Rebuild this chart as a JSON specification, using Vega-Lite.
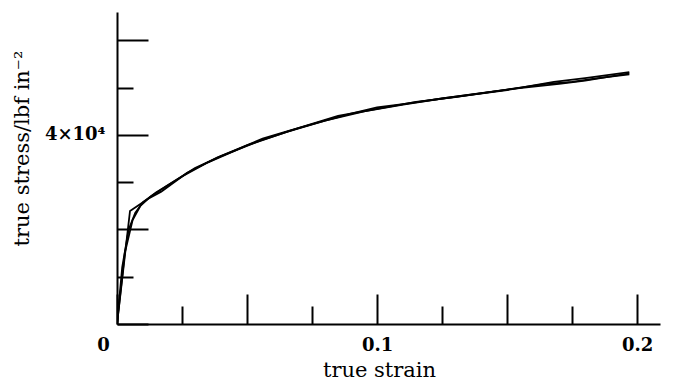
{
  "$schema": "https://vega.github.io/schema/vega-lite/v6.json",
  "width": 543,
  "height": 312,
  "autosize": "none",
  "padding": {"left": 117, "top": 12, "right": 13, "bottom": 59},
  "background": "white",
  "config": {"view": {"stroke": null}},
  "data": {"values": [
    {"run": "A", "strain": 0, "stress": 0},
    {"run": "A", "strain": 0.005, "stress": 23900},
    {"run": "A", "strain": 0.008, "stress": 25000},
    {"run": "A", "strain": 0.012, "stress": 26500},
    {"run": "A", "strain": 0.017, "stress": 28000},
    {"run": "A", "strain": 0.027, "stress": 32000},
    {"run": "A", "strain": 0.0385, "stress": 35200},
    {"run": "A", "strain": 0.056, "stress": 39200},
    {"run": "A", "strain": 0.067, "stress": 41000},
    {"run": "A", "strain": 0.08, "stress": 43000},
    {"run": "A", "strain": 0.09, "stress": 44500},
    {"run": "A", "strain": 0.1, "stress": 45800},
    {"run": "A", "strain": 0.11, "stress": 46500},
    {"run": "A", "strain": 0.125, "stress": 47700},
    {"run": "A", "strain": 0.15, "stress": 49500},
    {"run": "A", "strain": 0.168, "stress": 51200},
    {"run": "A", "strain": 0.18, "stress": 52000},
    {"run": "A", "strain": 0.197, "stress": 53300},
    {"run": "B", "strain": 0, "stress": 0},
    {"run": "B", "strain": 0.002, "stress": 12000},
    {"run": "B", "strain": 0.0045, "stress": 20000},
    {"run": "B", "strain": 0.007, "stress": 23500},
    {"run": "B", "strain": 0.01, "stress": 25800},
    {"run": "B", "strain": 0.015, "stress": 27800},
    {"run": "B", "strain": 0.025, "stress": 31200},
    {"run": "B", "strain": 0.035, "stress": 34200},
    {"run": "B", "strain": 0.05, "stress": 37800},
    {"run": "B", "strain": 0.065, "stress": 40600},
    {"run": "B", "strain": 0.08, "stress": 43000},
    {"run": "B", "strain": 0.095, "stress": 45000},
    {"run": "B", "strain": 0.11, "stress": 46400},
    {"run": "B", "strain": 0.125, "stress": 47700},
    {"run": "B", "strain": 0.15, "stress": 49600},
    {"run": "B", "strain": 0.165, "stress": 50800},
    {"run": "B", "strain": 0.175, "stress": 51200},
    {"run": "B", "strain": 0.185, "stress": 52000},
    {"run": "B", "strain": 0.197, "stress": 52800},
    {"run": "C", "strain": 0, "stress": 0},
    {"run": "C", "strain": 0.003, "stress": 15000},
    {"run": "C", "strain": 0.006, "stress": 22000},
    {"run": "C", "strain": 0.009, "stress": 25000},
    {"run": "C", "strain": 0.013, "stress": 27000},
    {"run": "C", "strain": 0.02, "stress": 29500},
    {"run": "C", "strain": 0.03, "stress": 33000},
    {"run": "C", "strain": 0.04, "stress": 35500},
    {"run": "C", "strain": 0.055, "stress": 38800},
    {"run": "C", "strain": 0.07, "stress": 41500},
    {"run": "C", "strain": 0.085, "stress": 44000},
    {"run": "C", "strain": 0.1, "stress": 45500},
    {"run": "C", "strain": 0.115, "stress": 47000},
    {"run": "C", "strain": 0.13, "stress": 48000},
    {"run": "C", "strain": 0.15, "stress": 49600},
    {"run": "C", "strain": 0.17, "stress": 50800},
    {"run": "C", "strain": 0.18, "stress": 51500},
    {"run": "C", "strain": 0.197, "stress": 53000}
  ]},
  "mark": {"type": "line", "color": "black", "strokeWidth": 1.8, "clip": true},
  "encoding": {
    "x": {
      "field": "strain", "type": "quantitative",
      "scale": {"domain": [0, 0.2088], "nice": false, "zero": true},
      "axis": {
        "title": "true strain",
        "titleFont": "DejaVu Serif", "titleFontSize": 21, "titleFontWeight": "normal", "titleColor": "black",
        "titleBaseline": "top", "titleY": 35, "titleX": 262,
        "values": [0, 0.025, 0.05, 0.075, 0.1, 0.125, 0.15, 0.175, 0.2],
        "grid": false,
        "domainColor": "black", "domainWidth": 2,
        "tickColor": "black", "tickWidth": 2,
        "tickSize": {"condition": {"test": "abs(datum.value*20 - round(datum.value*20)) > 0.01", "value": -18}, "value": -30},
        "labelExpr": "datum.value < 0.001 ? '0' : (abs(datum.value - 0.1) < 0.001 ? '0.1' : (abs(datum.value - 0.2) < 0.001 ? '0.2' : ''))",
        "labelFont": "DejaVu Serif", "labelFontSize": 18, "labelFontWeight": "bold", "labelColor": "black",
        "labelFlush": false,
        "labelPadding": 42,
        "labelOffset": {"condition": {"test": "datum.value < 0.001", "value": -14}, "value": 0}
      }
    },
    "y": {
      "field": "stress", "type": "quantitative",
      "scale": {"domain": [0, 66000], "nice": false},
      "axis": {
        "title": "true stress/lbf in⁻²",
        "titleFont": "DejaVu Serif", "titleFontSize": 21, "titleFontWeight": "normal", "titleColor": "black",
        "titleBaseline": "middle", "titleX": -95, "titleY": 136,
        "values": [0, 10000, 20000, 30000, 40000, 50000, 60000],
        "grid": false,
        "domainColor": "black", "domainWidth": 2,
        "tickColor": "black", "tickWidth": 2,
        "tickSize": {"condition": {"test": "datum.value % 20000 != 0", "value": -16}, "value": -31},
        "labelExpr": "datum.value == 40000 ? '4×10⁴' : ''",
        "labelFont": "DejaVu Serif", "labelFontSize": 18, "labelFontWeight": "bold", "labelColor": "black",
        "labelPadding": 43
      }
    },
    "detail": {"field": "run", "type": "nominal"}
  }
}
